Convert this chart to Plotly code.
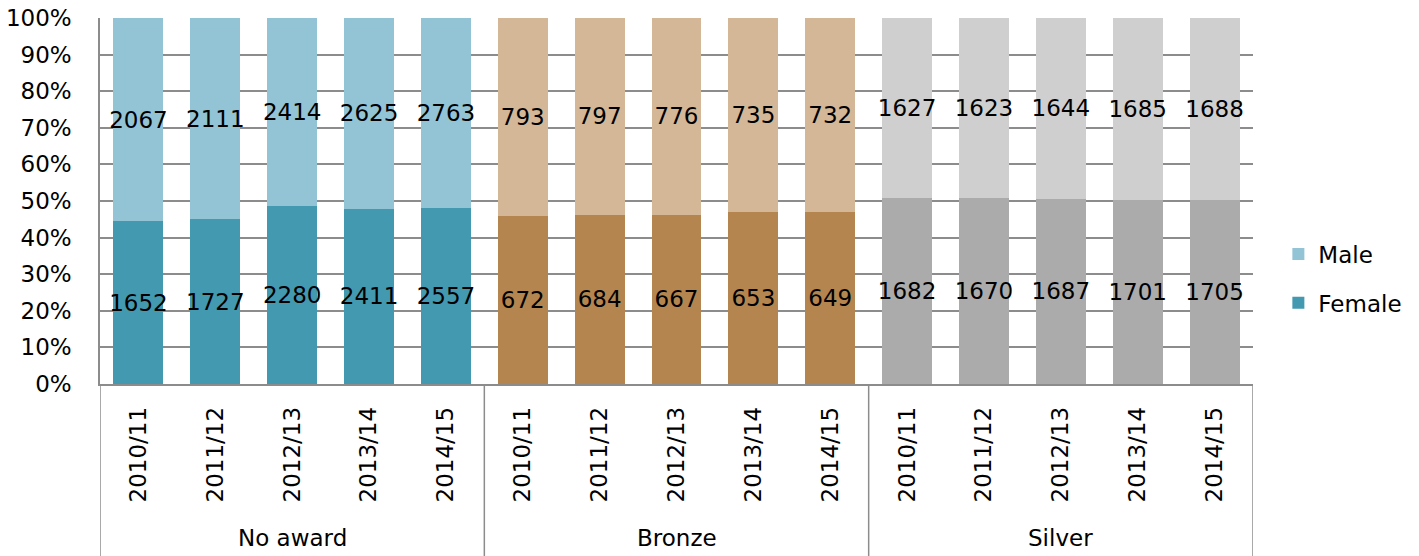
import plotly.graph_objects as go

groups = ["No award", "Bronze", "Silver"]
years = ["2010/11", "2011/12", "2012/13", "2013/14", "2014/15"]
y_ticks = [0, 10, 20, 30, 40, 50, 60, 70, 80, 90, 100]
y_ticktext = ["0%", "10%", "20%", "30%", "40%", "50%", "60%", "70%", "80%", "90%", "100%"]

female = {
    "No award": [1652, 1727, 2280, 2411, 2557],
    "Bronze": [672, 684, 667, 653, 649],
    "Silver": [1682, 1670, 1687, 1701, 1705],
}
male = {
    "No award": [2067, 2111, 2414, 2625, 2763],
    "Bronze": [793, 797, 776, 735, 732],
    "Silver": [1627, 1623, 1644, 1685, 1688],
}

female_colors = {"No award": "#4399B0", "Bronze": "#B5854F", "Silver": "#ABABAB"}
male_colors = {"No award": "#93C4D5", "Bronze": "#D4B796", "Silver": "#CFCFCF"}

FONT = "DejaVu Sans"
FS = 23
fig = go.Figure()

for gi, g in enumerate(groups):
    xs = [gi * len(years) + i for i in range(len(years))]
    fig.add_trace(go.Bar(
        x=xs, y=female[g], name="Female", legendgroup="f", legendrank=2,
        showlegend=(gi == 0), marker=dict(color=female_colors[g], line=dict(width=0)),
        width=0.65, text=female[g], textposition="inside", insidetextanchor="middle",
        textangle=0, constraintext="none",
        textfont=dict(color="black", size=FS, family=FONT), hoverinfo="skip",
    ))
    fig.add_trace(go.Bar(
        x=xs, y=male[g], name="Male", legendgroup="m", legendrank=1,
        showlegend=(gi == 0), marker=dict(color=male_colors[g], line=dict(width=0)),
        width=0.65, text=male[g], textposition="inside", insidetextanchor="middle",
        textangle=0, constraintext="none",
        textfont=dict(color="black", size=FS, family=FONT), hoverinfo="skip",
    ))

n = len(groups) * len(years)
ticktext = years * len(groups)

plot_h = 556 - 18 - 172
shapes = []
for b in [-0.5, 4.5, 9.5, 14.5]:
    shapes.append(dict(type="line", xref="x", yref="paper", x0=b, x1=b,
                       y0=0, y1=-172 / plot_h, line=dict(color="#8C8C8C", width=1.5)))

annotations = []
for gi, g in enumerate(groups):
    annotations.append(dict(x=gi * len(years) + 2, y=-154 / plot_h, xref="x", yref="paper",
                            text=g, showarrow=False, yanchor="middle",
                            font=dict(size=FS, color="black", family=FONT)))

fig.update_layout(
    template="none",
    barmode="stack", barnorm="percent",
    width=1419, height=556,
    margin=dict(l=100, r=166, t=18, b=172, autoexpand=False),
    plot_bgcolor="white", paper_bgcolor="white",
    font=dict(family=FONT, size=FS, color="black"),
    xaxis=dict(range=[-0.5, n - 0.5], tickmode="array", tickvals=list(range(n)), ticktext=ticktext,
               tickangle=-90, showgrid=False, zeroline=False, showline=True, automargin=False,
               linecolor="#8C8C8C", linewidth=1.5, ticks="", ticklabelstandoff=12,
               tickfont=dict(size=FS, family=FONT, color="black")),
    yaxis=dict(range=[0, 100], tickmode="array", tickvals=y_ticks, ticktext=y_ticktext,
               showgrid=True, gridcolor="#8C8C8C", gridwidth=1.5, zeroline=False,
               showline=True, linecolor="#8C8C8C", linewidth=1.5, ticks="", automargin=False,
               ticklabelstandoff=22,
               tickfont=dict(size=FS, family=FONT, color="black")),
    legend=dict(x=1.022, y=(384 - 278.5) / plot_h, xanchor="left", yanchor="middle",
                traceorder="grouped", tracegroupgap=16,
                font=dict(size=FS, family=FONT, color="black"), bgcolor="rgba(0,0,0,0)"),
    shapes=shapes, annotations=annotations,
)

fig.write_html("out.html")
